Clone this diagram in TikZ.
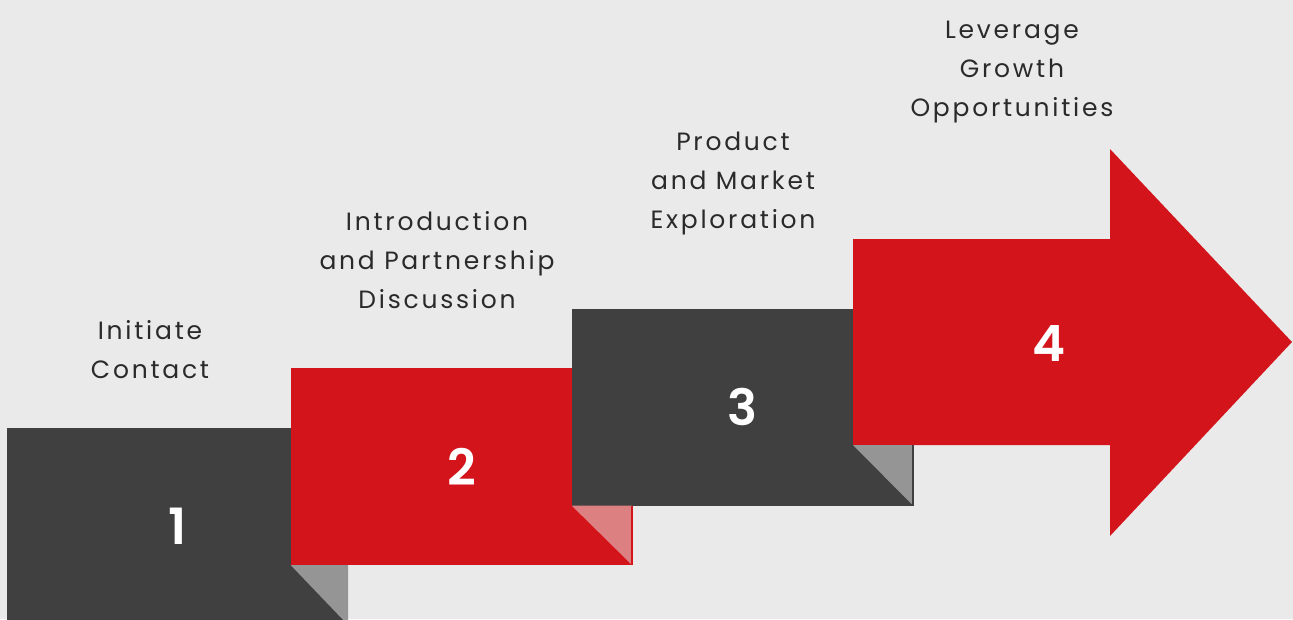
\documentclass[tikz,border=0pt]{standalone}
\usepackage{fontspec}
\setmainfont{Poppins}
\newfontfamily\labelfont{Poppins}[LetterSpace=11]
\newfontfamily\numfont{Poppins SemiBold}
\usetikzlibrary{positioning}

\definecolor{bggray}{HTML}{EAEAEA}
\definecolor{darkbox}{HTML}{404040}
\definecolor{brandred}{HTML}{D4141B}
\definecolor{foldgray}{HTML}{959595}
\definecolor{foldred}{HTML}{DD8082}
\definecolor{labeltext}{HTML}{2A2A2A}

\tikzset{
  stepbox/.style={rectangle, minimum width=341pt, minimum height=197pt, inner sep=0pt,
    text=white, font=\fontsize{50}{50}\numfont},
  steplabel/.style={align=center, inner sep=0pt, text=labeltext,
    font=\fontsize{25}{39}\labelfont},
}

\begin{document}
\begin{tikzpicture}[x=1pt, y=-1pt]
  %background
  \useasboundingbox[fill=bggray] (0,0) rectangle (1293,619);
  \clip (0,0) rectangle (1293,619);
  %steps with folded corners
  \node[stepbox, fill=darkbox] (box1) at (177.5,526.5) {1};
  \node[stepbox, fill=brandred] (box2) at (461.5,466.5) {2};
  \fill[foldgray] (box2.south west) -- (box1.south east |- box2.south west) -- (box1.south east) -- cycle;
  \node[stepbox, fill=darkbox] (box3) at (742.5,407) {3};
  \fill[foldred] (box3.south west) -- (box2.south east |- box3.south west) -- (box2.south east) -- cycle;
  \draw[brandred, line width=1.5pt] (box2.south east |- box3.south west) -- (box2.south east);
  %big arrow
  \fill[brandred] (853,239) coordinate (head) -- (1110,239) -- (1110,149) -- (1292,342) coordinate (tip)
    -- (1110,536) -- (1110,445) -- (853,445) coordinate (tail) -- cycle;
  \fill[foldgray] (tail) -- (box3.south east |- tail) -- (box3.south east) -- cycle;
  \draw[darkbox, line width=1.5pt] (box3.south east |- tail) -- (box3.south east);
  \node[text=white, font=\fontsize{50}{50}\numfont] (num4) at (1049,343) {4};
  %labels
  \node[steplabel] (lab1) at (150,349.5) {Initiate\\Contact};
  \node[steplabel] (lab2) at (437,260) {Introduction\\and Partnership\\Discussion};
  \node[steplabel] (lab3) at (733,183) {Product\\and Market\\Exploration};
  \node[steplabel] (lab4) at (1012,72) {Leverage\\Growth\\Opportunities};
\end{tikzpicture}
\end{document}
